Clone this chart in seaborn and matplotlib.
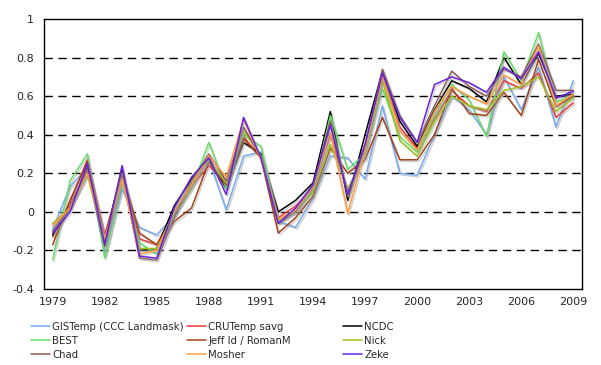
import numpy as np
import pandas as pd
import matplotlib
matplotlib.use("Agg")
import matplotlib.pyplot as plt
import matplotlib.patheffects as pe
import seaborn as sns

years = list(range(1979, 2010))

gistemp = [-0.09, 0.13, 0.23, -0.22, 0.12, -0.08, -0.12, -0.02, 0.14, 0.27, 0.01, 0.29, 0.31, -0.05, -0.08,
           0.07, 0.29, 0.28, 0.17, 0.55, 0.20, 0.19, 0.40, 0.60, 0.53, 0.40, 0.70, 0.53, 0.75, 0.44, 0.68]
crutemp = [-0.13, 0.05, 0.27, -0.12, 0.20, -0.14, -0.17, 0.00, 0.13, 0.24, 0.15, 0.39, 0.28, -0.03, 0.03,
           0.12, 0.40, 0.10, 0.33, 0.70, 0.44, 0.33, 0.48, 0.63, 0.55, 0.52, 0.68, 0.64, 0.72, 0.49, 0.565]
ncdc = [-0.12, 0.02, 0.23, -0.15, 0.22, -0.20, -0.19, 0.03, 0.17, 0.28, 0.12, 0.36, 0.30, 0.00, 0.06,
        0.15, 0.52, 0.06, 0.40, 0.73, 0.47, 0.34, 0.53, 0.68, 0.64, 0.57, 0.80, 0.66, 0.82, 0.60, 0.61]
best = [-0.25, 0.16, 0.30, -0.24, 0.15, -0.16, -0.22, -0.02, 0.12, 0.36, 0.12, 0.40, 0.34, -0.05, 0.00,
        0.11, 0.50, 0.22, 0.30, 0.64, 0.39, 0.31, 0.50, 0.66, 0.58, 0.39, 0.83, 0.68, 0.93, 0.57, 0.60]
jeffid = [-0.17, 0.06, 0.26, -0.14, 0.20, -0.11, -0.17, -0.05, 0.02, 0.26, 0.14, 0.38, 0.28, -0.11, -0.03,
          0.08, 0.33, 0.20, 0.27, 0.49, 0.27, 0.27, 0.40, 0.64, 0.51, 0.50, 0.62, 0.50, 0.79, 0.545, 0.60]
nick = [-0.06, 0.02, 0.19, -0.16, 0.18, -0.19, -0.19, 0.00, 0.15, 0.27, 0.15, 0.42, 0.29, -0.04, 0.00,
        0.10, 0.35, 0.12, 0.30, 0.68, 0.37, 0.29, 0.47, 0.60, 0.55, 0.53, 0.63, 0.65, 0.70, 0.52, 0.59]
chad = [-0.10, 0.03, 0.22, -0.18, 0.20, -0.24, -0.25, -0.03, 0.16, 0.30, 0.16, 0.44, 0.28, -0.06, 0.00,
        0.14, 0.47, 0.08, 0.34, 0.74, 0.50, 0.36, 0.55, 0.73, 0.65, 0.60, 0.74, 0.70, 0.87, 0.63, 0.63]
mosher = [-0.07, 0.02, 0.20, -0.14, 0.17, -0.22, -0.20, 0.00, 0.14, 0.29, 0.18, 0.48, 0.27, -0.04, 0.01,
          0.13, 0.41, -0.01, 0.32, 0.70, 0.42, 0.32, 0.52, 0.65, 0.60, 0.56, 0.71, 0.66, 0.86, 0.55, 0.61]
zeke = [-0.11, 0.00, 0.25, -0.17, 0.24, -0.23, -0.24, 0.02, 0.18, 0.28, 0.09, 0.49, 0.28, -0.06, 0.02,
        0.14, 0.45, 0.09, 0.35, 0.72, 0.49, 0.36, 0.66, 0.70, 0.67, 0.62, 0.75, 0.69, 0.83, 0.59, 0.625]

series = {
    "GISTemp (CCC Landmask)": gistemp,
    "CRUTemp savg": crutemp,
    "NCDC": ncdc,
    "BEST": best,
    "Jeff Id / RomanM": jeffid,
    "Nick": nick,
    "Chad": chad,
    "Mosher": mosher,
    "Zeke": zeke,
}
colores = {
    "GISTemp (CCC Landmask)": "#74aaf0",
    "CRUTemp savg": "#e8393a",
    "NCDC": "#000000",
    "BEST": "#66dd66",
    "Jeff Id / RomanM": "#a3421a",
    "Nick": "#9cc21c",
    "Chad": "#8e5c5c",
    "Mosher": "#ff9d3e",
    "Zeke": "#6a22dc",
}

filas = []
for nombre, valores in series.items():
    for i, v in enumerate(valores):
        filas.append({"idx": i, "valor": v, "serie": nombre})
df = pd.DataFrame(filas)

sns.set_style("white")
plt.rcParams["font.family"] = ["DejaVu Sans"]

fig = plt.figure(figsize=(6.01, 3.65), dpi=100)
ax = fig.add_axes([44 / 601, 1 - 289 / 365, (582 - 44) / 601, (289 - 19) / 365])

sns.lineplot(data=df, x="idx", y="valor", hue="serie", palette=colores,
             hue_order=list(series.keys()), linewidth=1.1, legend=False, ax=ax)

sombra = [pe.SimpleLineShadow(offset=(1, -1.2), shadow_color="#999999", alpha=0.45), pe.Normal()]
for linea in ax.get_lines():
    linea.set_path_effects(sombra)

# ejes
ax.set_xlim(-0.5, len(years) - 0.5)
ax.set_ylim(-0.4, 1.0)
ax.set_xlabel("")
ax.set_ylabel("")

ticks_y = np.round(np.arange(-0.4, 1.01, 0.2), 1)
ax.set_yticks(ticks_y)
ax.set_yticklabels([("%g" % t) for t in ticks_y])
for t in ticks_y[1:-1]:
    ax.axhline(t, color="black", linewidth=1.0, linestyle=(0, (6, 4)), zorder=0)

ax.set_xticks(np.arange(-0.5, len(years), 3))
ax.set_xticklabels([])
ax.set_xticks(np.arange(0, len(years), 3), minor=True)
ax.set_xticklabels([str(years[i]) for i in range(0, len(years), 3)], minor=True)
ax.tick_params(axis="x", which="major", direction="out", length=4, width=1, color="black")
ax.tick_params(axis="x", which="minor", length=0, pad=6, labelsize=8)
ax.tick_params(axis="y", direction="out", length=4, width=1, color="black", labelsize=8, pad=3)

for s in ax.spines.values():
    s.set_visible(True)
    s.set_color("black")
    s.set_linewidth(1.0)

# leyenda en tres columnas fijas
nombres = list(series.keys())
columnas = [nombres[0::3], nombres[1::3], nombres[2::3]]
x_col = [31 / 601, 187 / 601, 343 / 601]
for xc, col in zip(x_col, columnas):
    handles = [plt.Line2D([], [], color=colores[n], linewidth=1.1) for n in col]
    fig.legend(handles, col, loc="upper left", bbox_to_anchor=(xc, 1 - 322 / 365),
               frameon=False, fontsize=7.3, handlelength=1.9, handletextpad=0.2,
               labelspacing=0.38, borderpad=0, borderaxespad=0)

fig.savefig("out.png", dpi=100)
